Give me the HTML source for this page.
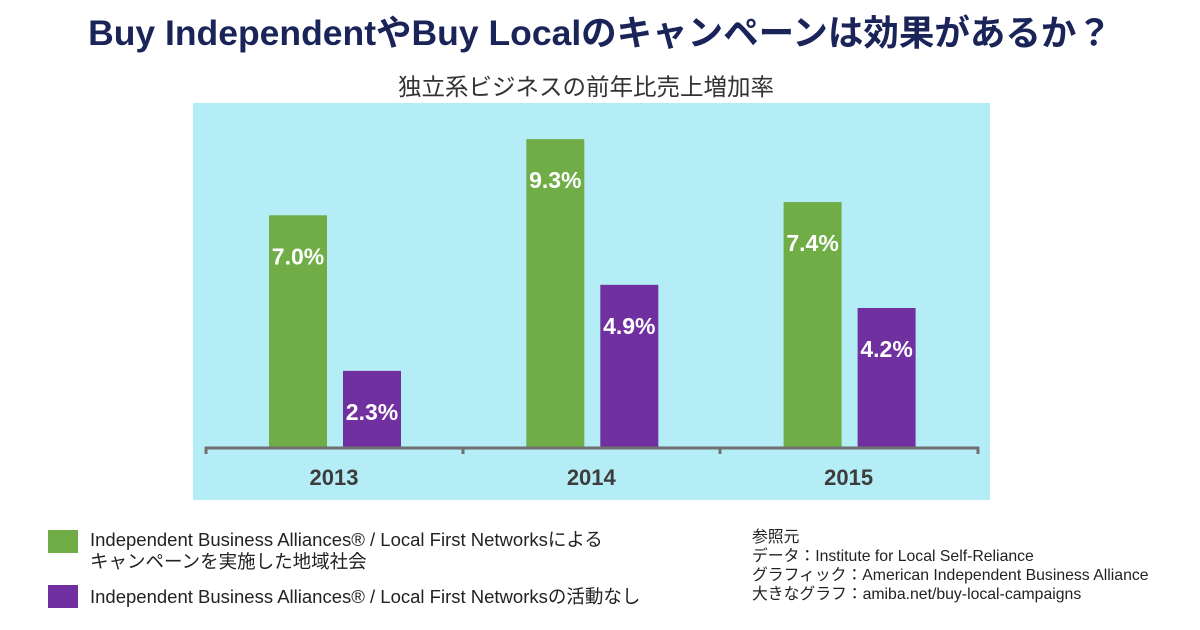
<!DOCTYPE html>
<html><head><meta charset="utf-8"><style>
body{margin:0;width:1200px;height:630px;background:#fff;overflow:hidden;font-family:"Liberation Sans","Noto Sans CJK JP",sans-serif;}
svg{display:block}
</style></head><body>
<svg width="1200" height="630" xmlns="http://www.w3.org/2000/svg">
<text x="600" y="45" text-anchor="middle" font-size="35.5" font-weight="bold" fill="#1a2458" font-family="Liberation Sans,Noto Sans CJK JP,sans-serif">Buy IndependentやBuy Localのキャンペーンは効果があるか？</text>
<text x="586" y="95" text-anchor="middle" font-size="23.5" fill="#333" font-family="Liberation Sans,Noto Sans CJK JP,sans-serif">独立系ビジネスの前年比売上増加率</text>
<rect x="193" y="103" width="797" height="397" fill="#b5edf6"/>
<g id="bars"></g>
<path d="M206 454V448H978V454M463 448V454M720 448V454" stroke="#707070" stroke-width="3" fill="none"/>
<rect x="48" y="530" width="30" height="23" fill="#70ad47"/>
<text font-size="18.5" fill="#222" font-family="Liberation Sans,Noto Sans CJK JP,sans-serif"><tspan x="90" y="546">Independent Business Alliances® / Local First Networksによる</tspan><tspan x="90" y="568">キャンペーンを実施した地域社会</tspan></text>
<rect x="48" y="585" width="30" height="23" fill="#7030a0"/>
<text x="90" y="603" font-size="18.5" fill="#222" font-family="Liberation Sans,Noto Sans CJK JP,sans-serif">Independent Business Alliances® / Local First Networksの活動なし</text>
<text font-size="15.8" fill="#222" font-family="Liberation Sans,Noto Sans CJK JP,sans-serif"><tspan x="752" y="542">参照元</tspan><tspan x="752" y="561">データ：Institute for Local Self-Reliance</tspan><tspan x="752" y="580">グラフィック：American Independent Business Alliance</tspan><tspan x="752" y="599">大きなグラフ：amiba.net/buy-local-campaigns</tspan></text>
</svg>
<script>
const years=["2013","2014","2015"];
const withCampaign=[7.0,9.3,7.4];
const withoutCampaign=[2.3,4.9,4.2];
const NS="http://www.w3.org/2000/svg";
const g=document.getElementById('bars');
const base=447, scale=33.1;
function y(v){return base-v*scale;}
function catX(i){return 206+i*257.3;}
function mk(t,a){const e=document.createElementNS(NS,t);for(const k in a)e.setAttribute(k,a[k]);g.appendChild(e);return e;}
years.forEach((yr,i)=>{
  const x0=catX(i);
  [[withCampaign[i],63,"#70ad47","green"],[withoutCampaign[i],137,"#7030a0","purple"]].forEach(([v,off,c,n])=>{
    const r=mk('rect',{x:x0+off,y:y(v),width:58,height:v*scale,fill:c});
    
    
    const t=mk('text',{x:x0+off+29,y:y(v)+49,'text-anchor':'middle','font-size':23,'font-weight':'bold',fill:'#fff','font-family':'Liberation Sans,sans-serif'});
    t.textContent=v.toFixed(1)+'%';
    
    
  });
  const l=mk('text',{x:x0+128,y:485,'text-anchor':'middle','font-size':22,'font-weight':'bold',fill:'#3c3c3c','font-family':'Liberation Sans,sans-serif'});
  l.textContent=yr;
  
  
});
</script>
</body></html>
